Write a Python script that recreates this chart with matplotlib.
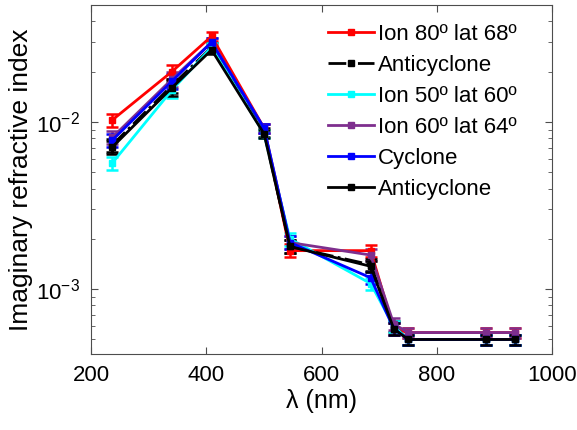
import numpy as np
import matplotlib.pyplot as plt
from matplotlib.ticker import LogLocator, NullFormatter

plt.rcParams['font.family'] = ['Liberation Sans', 'DejaVu Sans']

wl = np.array([237, 340, 409, 500, 545, 685, 725, 750, 885, 935])

red = [0.0103, 0.020, 0.0326, 0.0092, 0.0017, 0.0017, 0.00058, 0.00055, 0.00055, 0.00055]
black_dash = [0.0073, 0.0165, 0.028, 0.0087, 0.0018, 0.0014, 0.00060, 0.00050, 0.00050, 0.00050]
cyan = [0.0057, 0.0155, 0.028, 0.0085, 0.0020, 0.00108, 0.00060, 0.00050, 0.00050, 0.00050]
purple = [0.0081, 0.018, 0.030, 0.0092, 0.0019, 0.0016, 0.00062, 0.00055, 0.00055, 0.00055]
blue = [0.0078, 0.0175, 0.030, 0.0092, 0.0019, 0.00117, 0.00058, 0.00050, 0.00050, 0.00050]
black = [0.0071, 0.016, 0.027, 0.0085, 0.0018, 0.00137, 0.00058, 0.00050, 0.00050, 0.00050]

rel_err = np.array([0.09, 0.10, 0.06, 0.06, 0.09, 0.08, 0.08, 0.07, 0.07, 0.07])

series = [
    (red, 'Ion 80º lat 68º', 'red', '-'),
    (black_dash, 'Anticyclone', 'black', '-.'),
    (cyan, 'Ion 50º lat 60º', 'cyan', '-'),
    (purple, 'Ion 60º lat 64º', '#7E2F8E', '-'),
    (blue, 'Cyclone', 'blue', '-'),
    (black, 'Anticyclone', 'black', '-'),
]

fig = plt.figure(figsize=(5.77, 4.3), dpi=100)
ax = fig.add_axes([0.158, 0.177, 0.799, 0.811])

handles = []
for vals, lab, col, ls in series:
    v = np.array(vals)
    eb = ax.errorbar(wl, v, yerr=v * rel_err, color=col, linestyle=ls, linewidth=2,
                     marker='s', markersize=4, capsize=4, elinewidth=1.8, capthick=1.8,
                     label=lab)
    handles.append(eb[0])

ax.set_yscale('log')
ax.set_xlim(200, 1000)
ax.set_ylim(4.1e-4, 0.05)
ax.set_xticks([200, 400, 600, 800, 1000])
ax.yaxis.set_major_locator(LogLocator(base=10, numticks=10))
ax.yaxis.set_minor_locator(LogLocator(base=10, subs=np.arange(2, 10), numticks=10))
ax.yaxis.set_minor_formatter(NullFormatter())
ax.tick_params(which='both', direction='in', top=True, right=True, labelsize=16,
               color='0.3', pad=8)
ax.tick_params(which='major', length=5)
ax.tick_params(which='minor', length=3)
for s in ax.spines.values():
    s.set_color('0.3')

ax.set_xlabel('λ (nm)', fontsize=18, labelpad=2)
ax.set_ylabel('Imaginary refractive index', fontsize=19, labelpad=2)

ax.legend(handles, [s[1] for s in series], loc='upper left',
          bbox_to_anchor=(0.48, 0.99), fontsize=16, frameon=False, handlelength=2.05,
          handletextpad=0.2, labelspacing=0.45, borderaxespad=0.3)

plt.savefig('out.png', dpi=100)
